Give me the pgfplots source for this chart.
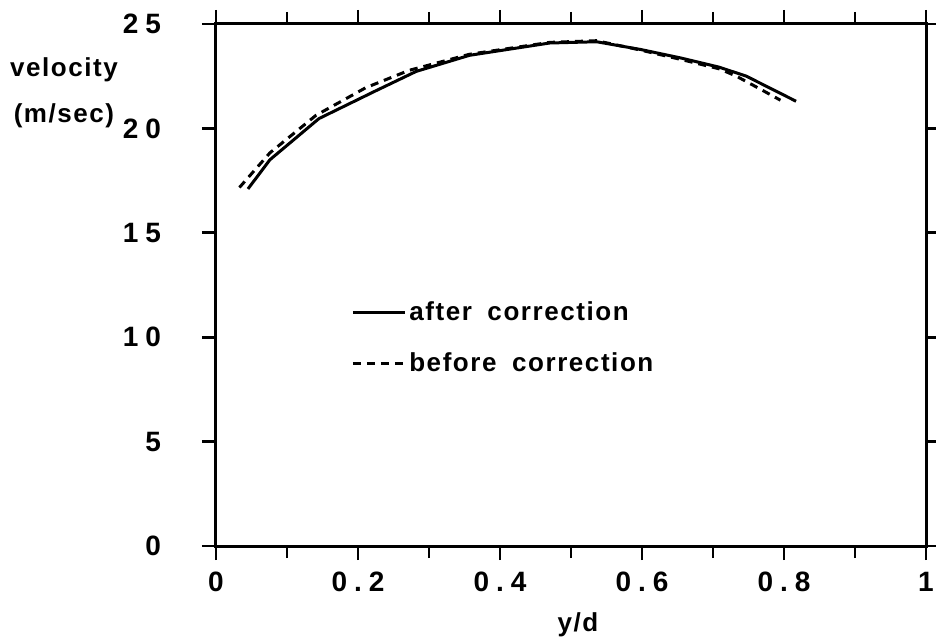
\documentclass[border=0pt]{standalone}
\usepackage{fontspec}
\setmainfont{Liberation Sans}
\newfontfamily\labfont[LetterSpace=6]{Liberation Sans Bold}
\newfontfamily\tickfont[LetterSpace=25]{Liberation Sans Bold}
\usepackage{pgfplots}
\pgfplotsset{compat=1.18}
\begin{document}
\begin{tikzpicture}
\useasboundingbox (-108pt,-45.5pt) rectangle (360pt,273pt);
\begin{axis}[
  at={(0,0)}, anchor=origin,
  scale only axis, width=355pt, height=261pt,
  xmin=0, xmax=1, ymin=0, ymax=25,
  xtick={0,0.2,0.4,0.6,0.8,1},
  xticklabels={0,0.2,0.4,0.6,0.8,1},
  minor xtick={0.1,0.3,0.5,0.7,0.9},
  ytick={0,5,10,15,20,25},
  yticklabels={0,5,10,15,20,25},
  tick align=outside,
  major tick length=7pt, minor tick length=6pt,
  major tick style={line width=1.3pt, black},
  minor tick style={line width=1.3pt, black},
  axis line style={line width=1.5pt},
  tick label style={font=\fontsize{14}{16}\selectfont\tickfont},
  yticklabel style={anchor=east, xshift=-17pt},
  xticklabel style={anchor=north, yshift=-2.5pt},
  /pgf/number format/assume math mode=true,
  legend style={draw=none, fill=none, at={(rel axis cs:0.19,0.475)}, anchor=north west,
    font=\fontsize{13}{15}\selectfont\labfont, row sep=11.5pt, inner sep=0pt,
    nodes={inner sep=1.5pt}},
  legend cell align=left,
  legend image code/.code={\draw[#1] (0pt,0pt) -- (26pt,0pt);},
]
\addplot[black, line width=1.5pt] coordinates {
(0.045,17.1) (0.076,18.5) (0.145,20.47) (0.225,21.8) (0.282,22.73) (0.357,23.5)
(0.47,24.09) (0.536,24.15) (0.598,23.78) (0.655,23.37) (0.709,22.93) (0.747,22.5) (0.817,21.3)
};
\addlegendentry{after\hspace{0.6em}correction}
\addplot[black, line width=1.5pt, dash pattern=on 4pt off 3pt] coordinates {
(0.033,17.17) (0.076,18.83) (0.141,20.63) (0.211,21.95) (0.272,22.78) (0.357,23.55)
(0.47,24.12) (0.536,24.2) (0.598,23.75) (0.655,23.3) (0.709,22.85) (0.733,22.5) (0.771,21.8) (0.795,21.35)
};
\addlegendentry{before\hspace{0.6em}correction}
\end{axis}
\node[font=\fontsize{13}{23}\selectfont\labfont, align=center] at (-76pt,226.5pt) {velocity\\(m/sec)};
\node[font=\fontsize{13}{15}\selectfont\labfont] at (181pt,-39.5pt) {y/d};
\end{tikzpicture}
\end{document}
